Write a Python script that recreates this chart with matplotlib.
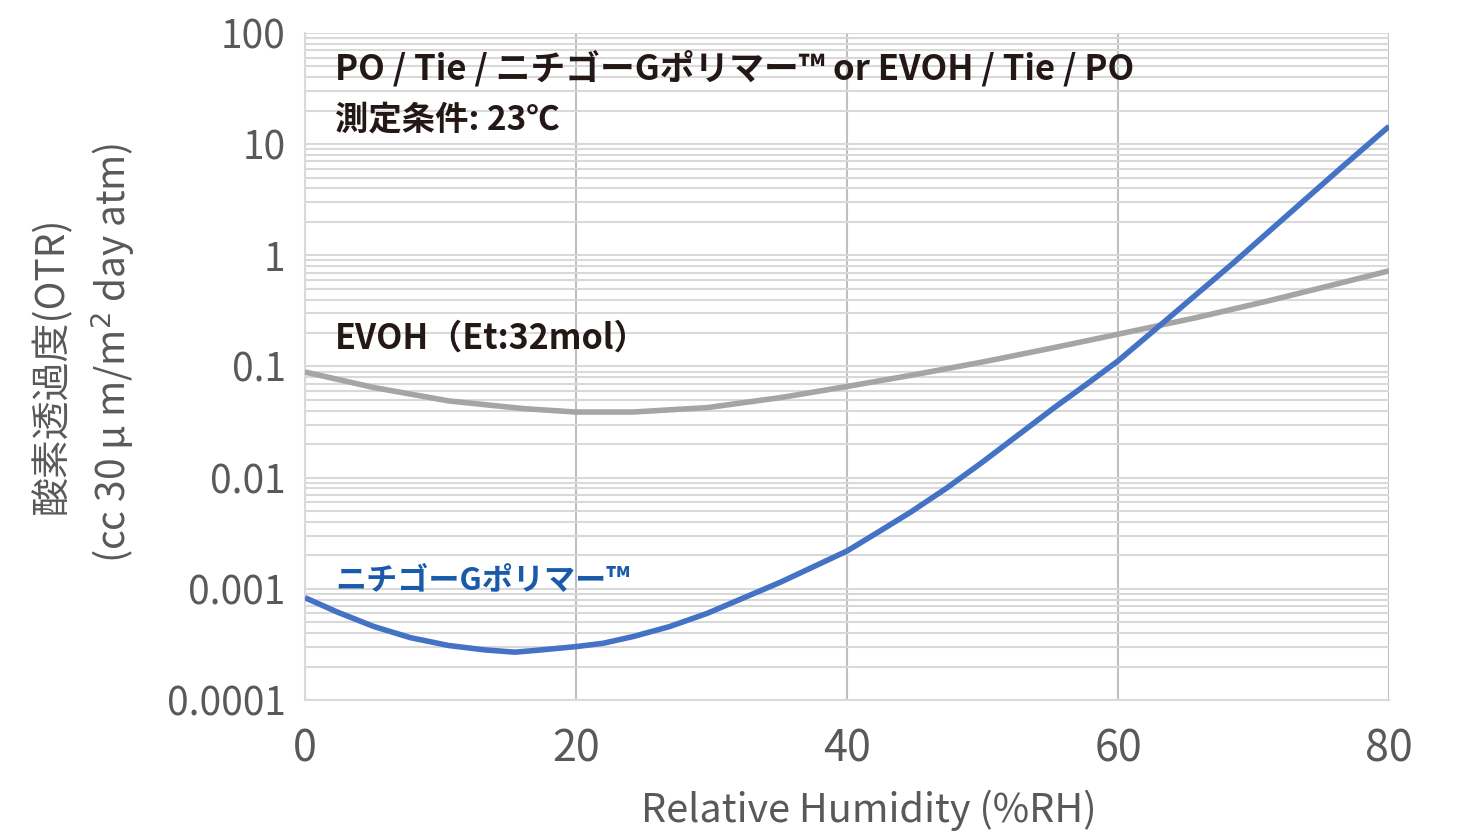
import numpy as np
import matplotlib
matplotlib.use('Agg')
import matplotlib.pyplot as plt
from matplotlib.ticker import LogLocator, NullFormatter

plt.rcParams['font.family'] = ['Noto Sans CJK JP', 'DejaVu Sans']

# relative humidity (%RH) and log10 OTR
rh_g = [0, 2.4, 5.1, 7.8, 10.6, 13.3, 15.5, 17.4, 20, 22, 24.2, 26.9, 29.7,
        32.4, 35.1, 37.9, 40, 42.3, 44.7, 47.4, 50, 52.7, 55.3, 57.9, 60,
        63.2, 65.8, 68.5, 71.1, 73.7, 76.4, 80]
g_log = [-3.08, -3.21, -3.34, -3.44, -3.51, -3.55, -3.57, -3.55, -3.52, -3.49,
         -3.43, -3.34, -3.22, -3.08, -2.94, -2.78, -2.66, -2.49, -2.31, -2.09,
         -1.86, -1.61, -1.37, -1.14, -0.95, -0.62, -0.35, -0.07, 0.21, 0.49,
         0.78, 1.16]

rh_e = [0, 5.1, 10.6, 16.2, 20, 24.2, 29.7, 35.1, 40, 44.7, 50, 55.3, 60,
        65.8, 71.1, 76.4, 80]
e_log = [-1.05, -1.19, -1.31, -1.38, -1.41, -1.41, -1.37, -1.28, -1.18, -1.08,
         -0.96, -0.83, -0.71, -0.56, -0.41, -0.25, -0.14]

yticks = [0.0001, 0.001, 0.01, 0.1, 1, 10, 100]
ylabels = ['0.0001', '0.001', '0.01', '0.1', '1', '10', '100']
xticks = [0, 20, 40, 60, 80]

fig = plt.figure(figsize=(14.6, 8.34), dpi=100)
ax = fig.add_axes([0.2089, 0.1607, 0.7425, 0.7998])

ax.plot(rh_e, 10**np.array(e_log), color='#a5a5a5', lw=4, solid_capstyle='butt',
        solid_joinstyle='round', zorder=3)
ax.plot(rh_g, 10**np.array(g_log), color='#4472c4', lw=4, solid_capstyle='butt',
        solid_joinstyle='round', zorder=4)

ax.set_yscale('log')
ax.set_ylim(0.0001, 100)
ax.set_xlim(0, 80)
ax.set_yticks(yticks)
ax.set_yticklabels(ylabels)
ax.yaxis.set_minor_locator(LogLocator(base=10, subs=np.arange(2, 10)))
ax.yaxis.set_minor_formatter(NullFormatter())
ax.set_xticks(xticks)

ax.grid(True, axis='y', which='both', color='#d9d9d9', lw=1.5)
ax.grid(True, axis='x', which='major', color='#bfbfbf', lw=1.5)
ax.set_axisbelow(True)

for s in ['top', 'right']:
    ax.spines[s].set_visible(False)
ax.spines['left'].set_color('#d9d9d9')
ax.spines['bottom'].set_color('#d9d9d9')
ax.spines['left'].set_linewidth(1.5)
ax.spines['bottom'].set_linewidth(1.5)

ax.tick_params(axis='both', which='both', length=0, colors='#595959')
ax.tick_params(axis='y', labelsize=28, pad=14)
ax.tick_params(axis='x', labelsize=31, pad=20)

ax.set_xlabel('Relative Humidity (%RH)', fontsize=28.5, color='#595959', va='center')
ax.xaxis.set_label_coords(0.52, -0.166)
fig.text(0.0356, 0.562, '酸素透過度(OTR)', rotation=90, fontsize=28,
         color='#595959', ha='center', va='center')
fig.text(0.0774, 0.577, '(cc 30 μ m/m$^2$ day atm)', rotation=90, fontsize=28,
         color='#595959', ha='center', va='center')

ax.text(2.2, 48, 'PO / Tie / ニチゴーGポリマー™ or EVOH / Tie / PO', fontsize=25,
        color='#231815', ha='left', va='center', weight='bold')
ax.text(2.2, 16.5, '測定条件: 23℃', fontsize=24, color='#231815',
        ha='left', va='center', weight='bold')
ax.text(2.2, 0.18, 'EVOH（Et:32mol）', fontsize=24.5, color='#231815',
        ha='left', va='center', weight='bold')
ax.text(2.2, 0.0012, 'ニチゴーGポリマー™', fontsize=22.4, color='#1a5aaa',
        ha='left', va='center', weight='bold')

fig.savefig('out.png', dpi=100)
